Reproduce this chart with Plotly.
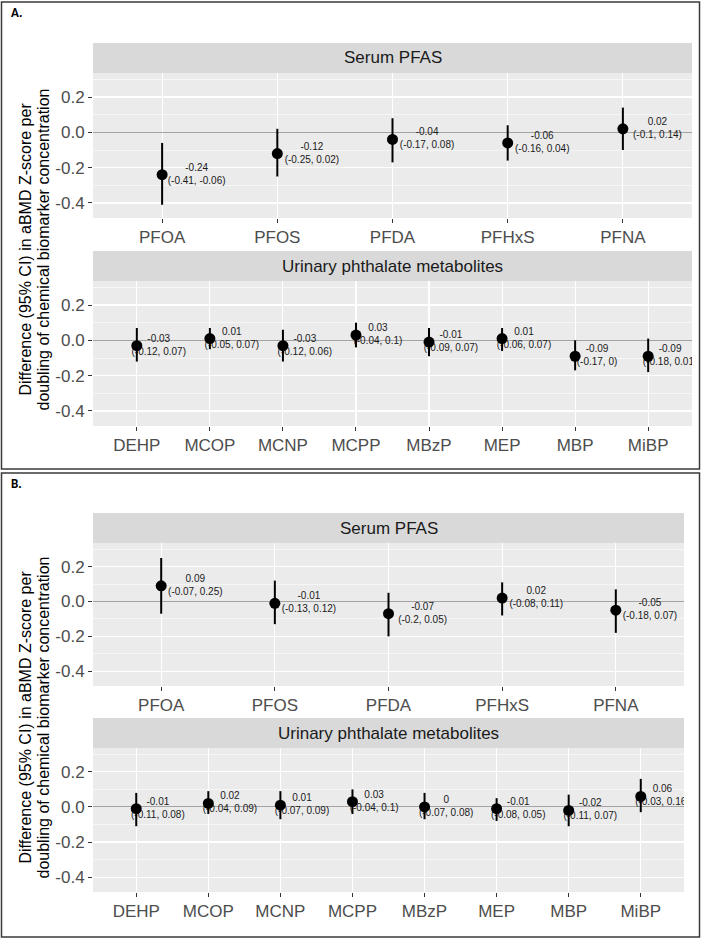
import plotly.graph_objects as go

W, H = 702, 939

# ---------------- data ----------------
serum = ["PFOA", "PFOS", "PFDA", "PFHxS", "PFNA"]
phthalates = ["DEHP", "MCOP", "MCNP", "MCPP", "MBzP", "MEP", "MBP", "MiBP"]

a_serum_est = [-0.24, -0.12, -0.04, -0.06, 0.02]
a_serum_lo = [-0.41, -0.25, -0.17, -0.16, -0.10]
a_serum_hi = [-0.06, 0.02, 0.08, 0.04, 0.14]

a_phth_est = [-0.03, 0.01, -0.03, 0.03, -0.01, 0.01, -0.09, -0.09]
a_phth_lo = [-0.12, -0.05, -0.12, -0.04, -0.09, -0.06, -0.17, -0.18]
a_phth_hi = [0.07, 0.07, 0.06, 0.10, 0.07, 0.07, 0.0, 0.01]

b_serum_est = [0.09, -0.01, -0.07, 0.02, -0.05]
b_serum_lo = [-0.07, -0.13, -0.20, -0.08, -0.18]
b_serum_hi = [0.25, 0.12, 0.05, 0.11, 0.07]

b_phth_est = [-0.01, 0.02, 0.01, 0.03, 0.0, -0.01, -0.02, 0.06]
b_phth_lo = [-0.11, -0.04, -0.07, -0.04, -0.07, -0.08, -0.11, -0.03]
b_phth_hi = [0.08, 0.09, 0.09, 0.10, 0.08, 0.05, 0.07, 0.16]

y_ticks = [-0.4, -0.2, 0.0, 0.2]
y_tick_text = ["-0.4", "-0.2", "0.0", "0.2"]
y_minor = [-0.3, -0.1, 0.1, 0.3]

strip_serum = "Serum PFAS"
strip_phth = "Urinary phthalate metabolites"
ytitle1 = "Difference (95% CI) in aBMD Z-score per"
ytitle2 = "doubling of chemical biomarker concentration"

# ---------------- helpers ----------------
def X(px):
    return px / W

def Y(py):
    return 1 - py / H

def fmt(v):
    s = f"{v:g}"
    return "0" if s == "-0" else s

FONT = "Liberation Sans, Arial, Helvetica, sans-serif"

# panel geometry in pixels: (left, right, strip_top, plot_top, plot_bottom)
panels = [
    dict(cats=serum, est=a_serum_est, lo=a_serum_lo, hi=a_serum_hi, strip=strip_serum,
         box=(93, 692, 43, 73, 218)),
    dict(cats=phthalates, est=a_phth_est, lo=a_phth_lo, hi=a_phth_hi, strip=strip_phth,
         box=(93, 692, 251, 281, 426)),
    dict(cats=serum, est=b_serum_est, lo=b_serum_lo, hi=b_serum_hi, strip=strip_serum,
         box=(93, 684, 513, 543, 686)),
    dict(cats=phthalates, est=b_phth_est, lo=b_phth_lo, hi=b_phth_hi, strip=strip_phth,
         box=(93, 684, 718, 748, 892)),
]

fig = go.Figure()
shapes = []
annotations = []
layout_axes = {}

for i, p in enumerate(panels, start=1):
    xa = "x" if i == 1 else f"x{i}"
    ya = "y" if i == 1 else f"y{i}"
    n = len(p["cats"])
    idx = list(range(n))
    labels = [f"{fmt(e)}<br>({fmt(l)}, {fmt(h)})" for e, l, h in zip(p["est"], p["lo"], p["hi"])]

    # text labels (drawn first, beneath the point ranges)
    fig.add_trace(go.Scatter(
        x=[k + 0.3 for k in idx], y=p["est"], text=labels, mode="text",
        textposition="middle center",
        textfont=dict(family=FONT, size=10, color="#1a1a1a"),
        xaxis=xa, yaxis=ya, showlegend=False, hoverinfo="skip", cliponaxis=True))

    # point ranges
    fig.add_trace(go.Scatter(
        x=idx, y=p["est"], mode="markers",
        marker=dict(size=11, color="black"),
        error_y=dict(type="data", symmetric=False,
                     array=[h - e for e, h in zip(p["est"], p["hi"])],
                     arrayminus=[e - l for e, l in zip(p["est"], p["lo"])],
                     color="black", thickness=2, width=0),
        xaxis=xa, yaxis=ya, showlegend=False))

    L, R, ST, PT, PB = p["box"]
    key = "" if i == 1 else str(i)
    layout_axes[f"xaxis{key}"] = dict(
        domain=[X(L), X(R)], range=[-0.6, n - 1 + 0.6], anchor=ya,
        tickvals=idx, ticktext=p["cats"], showgrid=True, gridcolor="white", gridwidth=1.1,
        zeroline=False, showline=False, ticks="outside", ticklen=4, tickwidth=1,
        tickcolor="#333333", tickfont=dict(family=FONT, size=17, color="#4d4d4d"),
        fixedrange=True)
    layout_axes[f"yaxis{key}"] = dict(
        domain=[Y(PB), Y(PT)], range=[-0.485, 0.336], anchor=xa,
        tickvals=y_ticks, ticktext=y_tick_text, showgrid=True, gridcolor="white",
        gridwidth=1.1,
        minor=dict(tickvals=y_minor, showgrid=True, gridcolor="white", gridwidth=0.55, ticks=""),
        zeroline=True, zerolinecolor="#a3a3a3", zerolinewidth=1.1, showline=False,
        ticks="outside", ticklen=4, tickwidth=1, tickcolor="#333333",
        tickfont=dict(family=FONT, size=17, color="#4d4d4d"), fixedrange=True)

    # strip
    shapes.append(dict(type="rect", xref="paper", yref="paper",
                       x0=X(L), x1=X(R), y0=Y(PT), y1=Y(ST),
                       fillcolor="#d9d9d9", line=dict(width=0), layer="below"))
    annotations.append(dict(text=p["strip"], xref="paper", yref="paper",
                            x=X((L + R) / 2), y=Y((ST + PT) / 2), showarrow=False,
                            xanchor="center", yanchor="middle",
                            font=dict(family=FONT, size=17, color="#1a1a1a")))

# y-axis titles (one per figure block) and panel letters
for (cy, letter, ly) in [(249.5, "A.", 12.5), (717.5, "B.", 484)]:
    annotations.append(dict(text=ytitle1, xref="paper", yref="paper", x=X(25), y=Y(cy),
                            textangle=-90, showarrow=False, xanchor="center", yanchor="middle",
                            font=dict(family=FONT, size=16, color="black")))
    annotations.append(dict(text=ytitle2, xref="paper", yref="paper", x=X(43), y=Y(cy),
                            textangle=-90, showarrow=False, xanchor="center", yanchor="middle",
                            font=dict(family=FONT, size=16, color="black")))
    annotations.append(dict(text=f"<b>{letter}</b>", xref="paper", yref="paper", x=X(9), y=Y(ly),
                            showarrow=False, xanchor="left", yanchor="middle",
                            font=dict(family="Carlito, Liberation Sans, Arial", size=13, color="black")))

# outer boxes
for (y0, y1) in [(2, 469), (473, 937)]:
    shapes.append(dict(type="rect", xref="paper", yref="paper",
                       x0=X(1.5), x1=X(699.5), y0=Y(y1), y1=Y(y0),
                       line=dict(color="#3a3a3a", width=1.5), fillcolor="rgba(0,0,0,0)"))

fig.update_layout(
    width=W, height=H, margin=dict(l=0, r=0, t=0, b=0),
    paper_bgcolor="white", plot_bgcolor="#ebebeb",
    shapes=shapes, annotations=annotations, showlegend=False,
    font=dict(family=FONT),
    **layout_axes)

fig.write_html("out.html",
               config={"displayModeBar": False, "staticPlot": True},
               post_script="document.body.style.margin='0';document.body.style.overflow='hidden';")
